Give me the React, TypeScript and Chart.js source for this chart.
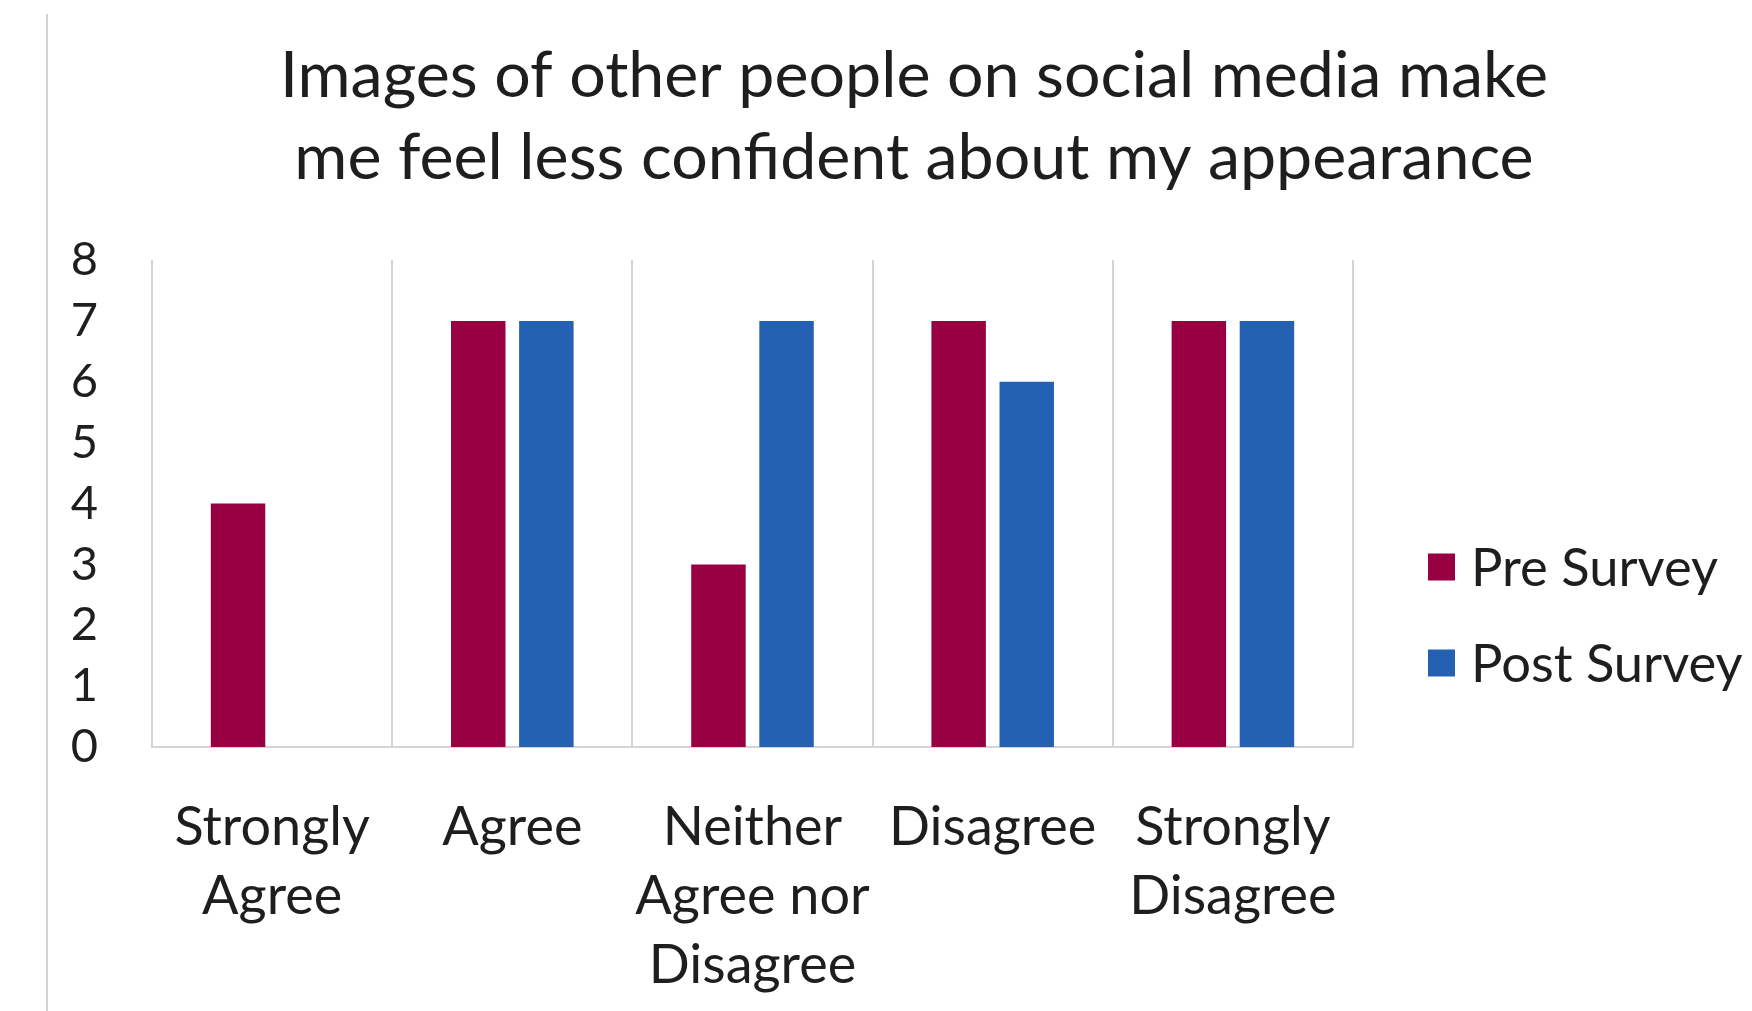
import React, { useEffect, useRef } from 'react';
import { Chart, registerables } from 'chart.js';

Chart.register(...registerables);

// ---- data ----
const titleLines = [
  'Images of other people on social media make',
  'me feel less confident about my appearance',
];
const categories = [
  ['Strongly', 'Agree'],
  ['Agree'],
  ['Neither', 'Agree nor', 'Disagree'],
  ['Disagree'],
  ['Strongly', 'Disagree'],
];
const seriesNames = ['Pre Survey', 'Post Survey'];
const preSurvey = [4, 7, 3, 7, 7];
const postSurvey = [0, 7, 7, 6, 7];
const yMin = 0;
const yMax = 8;
const yStep = 1;

// ---- styles ----
const FONT = 'Lato, "Open Sans", sans-serif';
const TEXT = '#1e1e1e';
const PRE_COLOR = '#990042';
const POST_COLOR = '#2561B2';
const GRID = '#d4d4d4';

const titlePlugin = {
  id: 'customTitle',
  afterDraw(chart: any) {
    const ctx = chart.ctx;
    ctx.save();
    ctx.fillStyle = TEXT;
    ctx.font = `64.5px ${FONT}`;
    ctx.textAlign = 'center';
    ctx.textBaseline = 'alphabetic';
    const cx = 914;
    const baselines = [97, 179];
    titleLines.forEach((line, i) => ctx.fillText(line, cx, baselines[i]));
    ctx.restore();
  },
};

const legendPlugin = {
  id: 'customLegend',
  afterDraw(chart: any) {
    const ctx = chart.ctx;
    ctx.save();
    ctx.font = `52.5px ${FONT}`;
    ctx.textBaseline = 'middle';
    ctx.textAlign = 'left';
    const boxX = 1428;
    const box = 27;
    const textX = 1471;
    const rows = [567, 663];
    chart.data.datasets.forEach((ds: any, i: number) => {
      const cy = rows[i];
      ctx.fillStyle = ds.backgroundColor;
      ctx.fillRect(boxX, cy - box / 2, box, box);
      ctx.fillStyle = TEXT;
      ctx.fillText(ds.label, textX, cy + 2);
    });
    ctx.restore();
  },
};

export default function App() {
  const ref = useRef<HTMLCanvasElement | null>(null);

  useEffect(() => {
    if (!ref.current) return;
    const chart = new Chart(ref.current, {
      type: 'bar',
      data: {
        labels: categories,
        datasets: [
          {
            label: seriesNames[0],
            data: preSurvey,
            backgroundColor: PRE_COLOR,
            borderWidth: 0,
          },
          {
            label: seriesNames[1],
            data: postSurvey,
            backgroundColor: POST_COLOR,
            borderWidth: 0,
          },
        ],
      },
      options: {
        animation: false,
        responsive: false,
        maintainAspectRatio: false,
        datasets: {
          bar: {
            categoryPercentage: 0.567,
            barPercentage: 0.8,
          },
        },
        layout: {
          padding: { left: 52, right: 399, top: 260, bottom: 0 },
        },
        plugins: {
          legend: { display: false },
          title: { display: false },
          tooltip: { enabled: false },
        },
        scales: {
          x: {
            grid: {
              display: true,
              offset: true,
              color: GRID,
              lineWidth: 2,
              drawTicks: false,
            },
            border: { display: true, color: GRID, width: 2 },
            ticks: {
              color: TEXT,
              font: { family: FONT, size: 54, lineHeight: 1.28 },
              padding: 46,
              maxRotation: 0,
              minRotation: 0,
              autoSkip: false,
            },
            afterFit(scale: any) {
              scale.height = 264;
            },
          },
          y: {
            min: yMin,
            max: yMax,
            grid: { display: false, drawTicks: false },
            border: { display: false },
            ticks: {
              stepSize: yStep,
              color: TEXT,
              font: { family: FONT, size: 47 },
              padding: 54,
            },
            afterFit(scale: any) {
              scale.width = 100;
            },
          },
        },
      },
      plugins: [titlePlugin, legendPlugin],
    });
    return () => chart.destroy();
  }, []);

  return (
    <div
      style={{
        position: 'fixed',
        left: 0,
        top: 0,
        width: 1752,
        height: 1011,
        background: '#ffffff',
        overflow: 'hidden',
      }}
    >
      <div
        style={{
          position: 'absolute',
          left: 46,
          top: 14,
          width: 2,
          height: 1011 - 14,
          background: '#d2d2d2',
        }}
      />
      <canvas
        ref={ref}
        width={1752}
        height={1011}
        style={{ position: 'absolute', left: 0, top: 0, width: 1752, height: 1011 }}
      />
    </div>
  );
}
